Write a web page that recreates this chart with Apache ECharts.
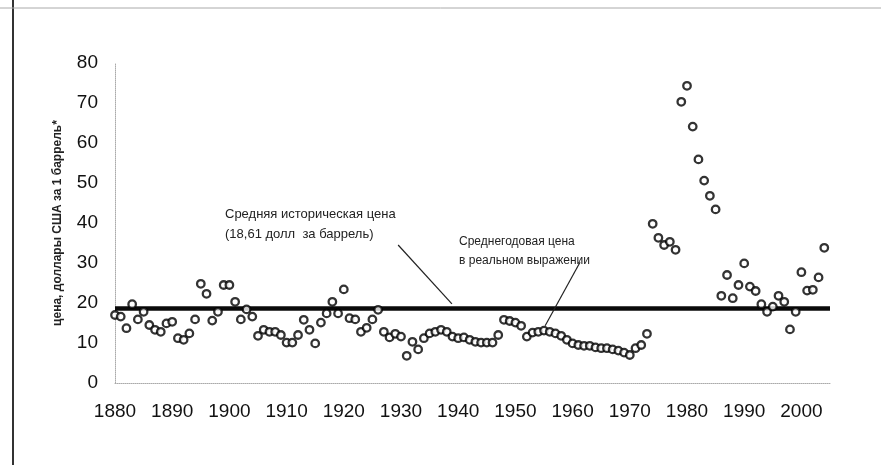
<!DOCTYPE html>
<html>
<head>
<meta charset="utf-8">
<script src="https://cdn.jsdelivr.net/npm/echarts@6/dist/echarts.min.js"></script>
<style>
  html, body { margin: 0; padding: 0; background: #fff; }
  #chart { width: 881px; height: 465px; }
</style>
</head>
<body>
<div id="chart"></div>
<script>
// годы 1880-2004, цена в реальном выражении, долл. за баррель
const years = [];
for (let y = 1880; y <= 2004; y++) years.push(y);

const prices = [
  17.0, 16.6, 13.7, 19.7, 15.9, 17.8, 14.5, 13.3, 12.8, 14.9,   // 1880-1889
  15.3, 11.2, 10.8, 12.4, 15.9, 24.8, 22.3, 15.6, 17.8, 24.5,   // 1890-1899
  24.5, 20.3, 15.9, 18.4, 16.6, 11.8, 13.3, 12.8, 12.8, 12.0,   // 1900-1909
  10.1, 10.1, 12.0, 15.8, 13.3, 9.9, 15.1, 17.4, 20.3, 17.4,    // 1910-1919
  23.4, 16.2, 15.9, 12.8, 13.8, 15.9, 18.3, 12.8, 11.4, 12.3,   // 1920-1929
  11.6, 6.8, 10.3, 8.4, 11.2, 12.4, 12.8, 13.3, 12.8, 11.6,     // 1930-1939
  11.2, 11.4, 10.8, 10.3, 10.1, 10.1, 10.1, 12.0, 15.8, 15.5,   // 1940-1949
  15.1, 14.3, 11.6, 12.6, 12.8, 13.1, 12.8, 12.4, 11.8, 10.8,   // 1950-1959
  9.9, 9.5, 9.3, 9.3, 8.9, 8.7, 8.7, 8.4, 8.1, 7.6,             // 1960-1969
  7.0, 8.7, 9.5, 12.3, 39.8, 36.3, 34.5, 35.3, 33.3, 70.3,      // 1970-1979
  74.3, 64.1, 55.9, 50.6, 46.8, 43.4, 21.8, 27.0, 21.2, 24.5,   // 1980-1989
  29.9, 24.1, 23.0, 19.7, 17.8, 19.1, 21.8, 20.3, 13.4, 17.8,   // 1990-1999
  27.7, 23.1, 23.3, 26.4, 33.8                                  // 2000-2004
];

const avgPrice = 18.61;

const xTicks = [1880, 1890, 1900, 1910, 1920, 1930, 1940, 1950, 1960, 1970, 1980, 1990, 2000];
const yTicks = [0, 10, 20, 30, 40, 50, 60, 70, 80];

// выноски: [год, цена] начала и конца линии
const avgNote = [[1929.5, 34.5], [1938.9, 19.8]];
const realNote = [[1961.3, 30.2], [1955.2, 14.3]];

const points = years.map((y, i) => [y, prices[i]]);

const chart = echarts.init(document.getElementById('chart'));
const font = '"Liberation Sans", Arial, sans-serif';

chart.setOption({
  animation: false,
  backgroundColor: '#fff',
  grid: { left: 115, right: 51, top: 63, bottom: 82 },
  xAxis: {
    type: 'value',
    min: xTicks[0],
    max: 2005,
    interval: 10,
    splitLine: { show: false },
    axisTick: { show: false },
    axisLine: { show: true, lineStyle: { color: '#aaa', type: 'dotted', width: 1 } },
    axisLabel: {
      margin: 19,
      fontFamily: font,
      fontSize: 19,
      color: '#111',
      formatter: v => (xTicks.includes(v) ? String(v) : '')
    }
  },
  yAxis: {
    type: 'value',
    min: yTicks[0],
    max: yTicks[yTicks.length - 1],
    interval: 10,
    splitLine: { show: false },
    axisTick: { show: false },
    axisLine: { show: true, lineStyle: { color: '#aaa', type: 'dotted', width: 1 } },
    axisLabel: { margin: 17, fontFamily: font, fontSize: 19, color: '#111' },
    name: 'цена, доллары США за 1 баррель*',
    nameLocation: 'middle',
    nameRotate: 90,
    nameGap: 51,
    nameTextStyle: { fontFamily: font, fontSize: 12, fontWeight: 'bold', color: '#222' }
  },
  series: [
    {
      type: 'scatter',
      data: points,
      symbol: 'circle',
      symbolSize: 7.5,
      z: 3,
      itemStyle: { color: '#fff', borderColor: '#000', borderWidth: 2.3 },
      markLine: {
        silent: true,
        symbol: ['none', 'none'],
        label: { show: false },
        z: 2,
        data: [
          { yAxis: avgPrice, lineStyle: { color: '#0a0a0a', width: 4.5, type: 'solid' } },
          [
            { coord: avgNote[0], lineStyle: { color: '#222', width: 1.2, type: 'solid' } },
            { coord: avgNote[1] }
          ],
          [
            { coord: realNote[0], lineStyle: { color: '#222', width: 1.2, type: 'solid' } },
            { coord: realNote[1] }
          ]
        ]
      }
    }
  ],
  graphic: [
    { type: 'line', shape: { x1: 13, y1: 0, x2: 13, y2: 465 }, style: { stroke: '#333', lineWidth: 2 } },
    { type: 'line', shape: { x1: 0, y1: 8, x2: 881, y2: 8 }, style: { stroke: '#aaa', lineWidth: 1 } },
    {
      type: 'text', left: 225, top: 204,
      style: {
        text: 'Средняя историческая цена\n(18,61 долл  за баррель)',
        font: '13px ' + font, fill: '#222', lineHeight: 20
      }
    },
    {
      type: 'text', left: 459, top: 232,
      style: {
        text: 'Среднегодовая цена\nв реальном выражении',
        font: '12px ' + font, fill: '#222', lineHeight: 19
      }
    }
  ]
});
</script>
</body>
</html>
